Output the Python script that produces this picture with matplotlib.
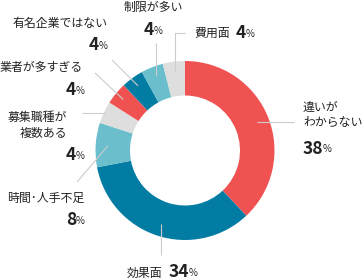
import numpy as np
import matplotlib
matplotlib.use("Agg")
import matplotlib.pyplot as plt

plt.rcParams['font.family'] = ['Noto Sans CJK JP', 'DejaVu Sans']

# ---- data ----
categories = ['違いがわからない', '効果面', '時間・人手不足', '募集職種が複数ある',
              '業者が多すぎる', '有名企業ではない', '制限が多い', '費用面']
values = [38, 34, 8, 4, 4, 4, 4, 4]
value_labels = ['38', '34', '8', '4', '4', '4', '4', '4']
colors = ['#F05252', '#037CA3', '#6BBFCC', '#DEDEDE',
          '#F05252', '#037CA3', '#6BBFCC', '#DEDEDE']

W, H = 364, 280
fig = plt.figure(figsize=(W / 100, H / 100), dpi=100)
ax = fig.add_axes([0, 0, 1, 1])

def py(y):  # pixel-from-top to data y
    return H - y

cx, cy, R, ring = 185, py(150.5), 89.5, 34.5
wedges, _ = ax.pie(values, colors=colors, startangle=90, counterclock=False,
                   radius=R, center=(cx, cy),
                   wedgeprops=dict(width=ring, edgecolor='none', linewidth=0))
ax.set_xlim(0, W)
ax.set_ylim(0, H)
ax.set_aspect('equal')
ax.axis('off')

# mid angles (degrees) of each wedge
mids = [(w.theta1 + w.theta2) / 2 for w in wedges]

def wedge_pt(i, r):
    a = np.deg2rad(mids[i])
    return cx + r * np.cos(a), cy + r * np.sin(a)

line_col = '#CCCCCC'
# leader layouts: (radius of inner end, list of outer points in px)
leaders = [
    (77, [(294, None)]),
    (77, [(None, 255)]),
    (77, [(77, 182)]),
    (88, [(82, None)]),
    (80, [(95, 73)]),
    (80, [(112, 60)]),
    (80, [(None, 43)]),
    (80, [(None, 33), (185, 33)]),
]
for i, (r, pts) in enumerate(leaders):
    x0, y0 = wedge_pt(i, r)
    xs, ys = [x0], [y0]
    for (px, pyy) in pts:
        nx = xs[-1] if px is None else px
        ny = ys[-1] if pyy is None else py(pyy)
        xs.append(nx)
        ys.append(ny)
    ax.plot(xs, ys, color=line_col, lw=0.8, solid_capstyle='butt', zorder=1)

txt_col = '#222222'
LBL = 8.6
NUM = 12.5
PCT = 7

fig.canvas.draw()
renderer = fig.canvas.get_renderer()

def label(x, y, s):
    ax.text(x, py(y), s, fontsize=LBL, color=txt_col, ha='left', va='center')

def number(x, y, s):
    t = ax.text(x, py(y), s, fontsize=NUM, fontweight='bold', color=txt_col,
                ha='left', va='center')
    bb = t.get_window_extent(renderer=renderer)
    x1 = ax.transData.inverted().transform((bb.x1, bb.y0))[0]
    ax.text(x1 - 0.5, py(y) - 1.0, '%', fontsize=PCT, color=txt_col,
            ha='left', va='center')

# 違いがわからない
label(303, 107.5, '違いが')
label(303, 122, 'わからない')
number(303, 148.5, value_labels[0])
# 効果面
label(127, 273, '効果面')
number(169, 272, value_labels[1])
# 時間・人手不足
label(7, 198, '時間･人手不足')
number(66, 220, value_labels[2])
# 募集職種が複数ある
label(8, 117, '募集職種が')
label(20, 133, '複数ある')
number(66, 155, value_labels[3])
# 業者が多すぎる
label(0, 68, '業者が多すぎる')
number(66, 90, value_labels[4])
# 有名企業ではない
label(13, 23, '有名企業ではない')
number(89, 45, value_labels[5])
# 制限が多い
label(124, 7, '制限が多い')
number(144, 30, value_labels[6])
# 費用面
label(194, 33, '費用面')
number(236, 33, value_labels[7])

fig.savefig('out.png', dpi=100)
